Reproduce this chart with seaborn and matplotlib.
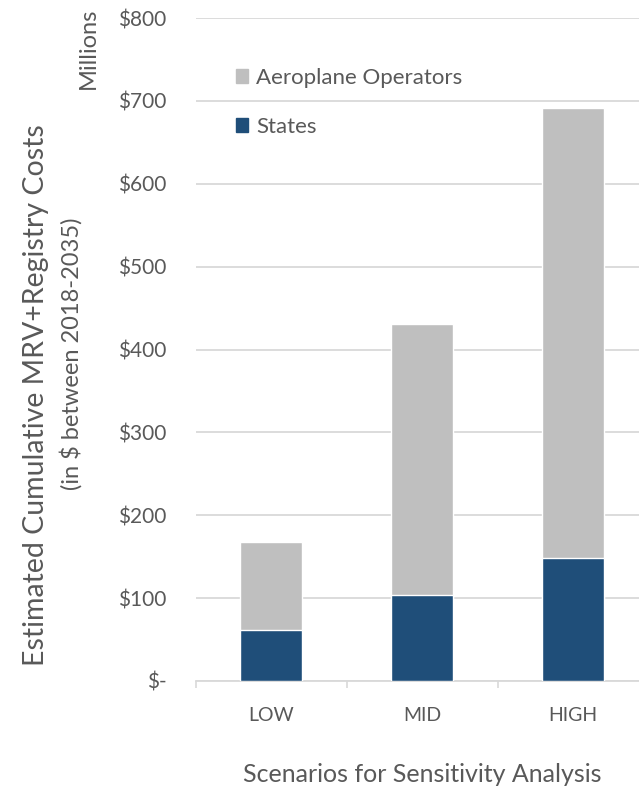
import matplotlib
matplotlib.use("Agg")
import matplotlib.pyplot as plt
from matplotlib.patches import Patch
from matplotlib.ticker import FuncFormatter
import seaborn as sns
import pandas as pd

# Scenario costs, millions of USD (2018-2035 cumulative)
scenarios = ["LOW", "MID", "HIGH"]
states = [62, 104, 149]
operators = [106, 327, 543]

sns.set_theme(style="white")
plt.rcParams["font.family"] = ["Lato", "DejaVu Sans"]

text_color = "#595959"
states_color = "#1F4E79"
operators_color = "#BFBFBF"

df = pd.DataFrame({"Scenario": scenarios, "States": states, "Operators": operators})
df["Total"] = df["States"] + df["Operators"]

fig = plt.figure(figsize=(6.39, 7.87), dpi=100)
ax = fig.add_axes([0.306, 0.1347, 0.709, 0.8424])

sns.barplot(data=df, x="Scenario", y="Total", color=operators_color, width=0.41,
            saturation=1, ax=ax, zorder=2)
sns.barplot(data=df, x="Scenario", y="States", color=states_color, width=0.41,
            saturation=1, ax=ax, zorder=3)

ax.set_ylim(0, 800)
ax.set_xlim(-0.5, 2.5)
ax.set_yticks(range(0, 801, 100))
ax.yaxis.set_major_formatter(FuncFormatter(lambda v, p: "$-" if v == 0 else f"${int(v)}"))
ax.grid(axis="y", color="#D9D9D9", linewidth=1.3, zorder=0)
ax.set_axisbelow(True)

for side in ["top", "right", "left"]:
    ax.spines[side].set_visible(False)
ax.spines["bottom"].set_color("#D9D9D9")
ax.spines["bottom"].set_linewidth(1.3)

ax.set_xticks([0, 1, 2])
ax.set_xticklabels(scenarios)
ax.set_xticks([-0.5, 0.5, 1.5], minor=True)
ax.tick_params(axis="x", which="major", length=0, pad=19, labelsize=14, labelcolor=text_color)
ax.tick_params(axis="x", which="minor", length=5, width=1.2, color="#D9D9D9", bottom=True)
ax.tick_params(axis="y", length=0, pad=21, labelsize=15, labelcolor=text_color)

ax.set_xlabel("Scenarios for Sensitivity Analysis", fontsize=18, color=text_color, labelpad=28)
ax.set_ylabel("")

fig.text(0.057, 0.498, "Estimated Cumulative MRV+Registry Costs", rotation=90,
         ha="center", va="center", fontsize=20.5, color=text_color)
fig.text(0.112, 0.55, "(in $ between 2018-2035)", rotation=90,
         ha="center", va="center", fontsize=17, color=text_color)
fig.text(0.138, 0.99, "Millions", rotation=90, ha="center", va="top",
         fontsize=17, color=text_color)

handles = [Patch(color=operators_color, label="Aeroplane Operators"),
           Patch(color=states_color, label="States")]
leg = ax.legend(handles=handles, loc="upper left", bbox_to_anchor=(0.045, 0.955),
                frameon=False, fontsize=16, handlelength=0.55, handleheight=0.55,
                handletextpad=0.35, labelspacing=1.3)
for t in leg.get_texts():
    t.set_color(text_color)

fig.savefig("out.png", dpi=100)
